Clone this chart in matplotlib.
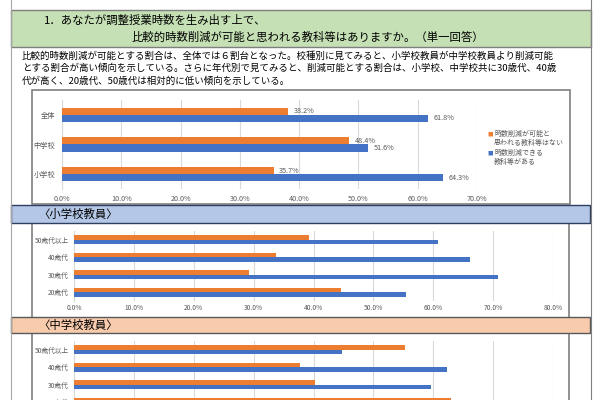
import matplotlib
matplotlib.use("Agg")
import matplotlib.pyplot as plt
from matplotlib.patches import Rectangle

plt.rcParams['font.family'] = ['Noto Sans CJK JP', 'DejaVu Sans']

# ---------------- data ----------------
title_lines = ["1．あなたが調整授業時数を生み出す上で、",
               "比較的時数削減が可能と思われる教科等はありますか。（単一回答）"]
para_lines = ["比較的時数削減が可能とする割合は、全体では６割台となった。校種別に見てみると、小学校教員が中学校教員より削減可能",
              "とする割合が高い傾向を示している。さらに年代別で見てみると、削減可能とする割合は、小学校、中学校共に30歳代、40歳",
              "代が高く、20歳代、50歳代は相対的に低い傾向を示している。"]
series_names = [["時数削減が可能と", "思われる教科等はない"], ["時数削減できる", "教科等がある"]]

main_cats = ["全体", "中学校", "小学校"]
main_no = [38.2, 48.4, 35.7]
main_yes = [61.8, 51.6, 64.3]
main_ticks = [0, 10, 20, 30, 40, 50, 60, 70]

age_cats = ["50歳代以上", "40歳代", "30歳代", "20歳代"]
elem_no = [39.2, 33.8, 29.2, 44.6]
elem_yes = [60.8, 66.2, 70.8, 55.4]
jh_no = [55.2, 37.7, 40.3, 63.0]
jh_yes = [44.8, 62.3, 59.7, 37.0]
age_ticks = [0, 10, 20, 30, 40, 50, 60, 70, 80]

header_elem = "〈小学校教員〉"
header_jh = "〈中学校教員〉"

ORANGE = "#ed7d31"
BLUE = "#4472c4"
GRID = "#d9d9d9"
LBL = "#595959"

W, H = 599, 400
fig = plt.figure(figsize=(W / 100, H / 100), dpi=100)

# background drawing layer in pixel coords
bg = fig.add_axes([0, 0, 1, 1], zorder=0)
bg.set_xlim(0, W)
bg.set_ylim(H, 0)
bg.axis("off")


def rect(x0, y0, x1, y1, fc, ec, lw):
    bg.add_patch(Rectangle((x0, y0), x1 - x0, y1 - y0, facecolor=fc, edgecolor=ec, lw=lw))


# page border
bg.plot([11, 11], [0, 400], color="#a6a6a6", lw=0.8)
bg.plot([591, 591], [0, 400], color="#7f7f7f", lw=0.8)

# title box
rect(11, 10, 591, 47, "#c5e0b4", "#7f7f7f", 1.0)
bg.text(44, 20, title_lines[0], fontsize=8.2, ha="left", va="center", color="#000000")
bg.text(132, 37, title_lines[1], fontsize=8.2, ha="left", va="center", color="#000000")

for i, line in enumerate(para_lines):
    bg.text(22, 56 + i * 12.5, line, fontsize=6.8, ha="left", va="center", color="#000000")

# chart frames
rect(32, 90, 570, 204, "white", "#7f7f7f", 1.2)
rect(32, 222, 569, 318, "white", "#7f7f7f", 1.2)
rect(32, 332, 569, 410, "white", "#7f7f7f", 1.2)

# section headers
rect(11, 205, 590, 223, "#b4c7e7", "#2f3f5f", 1.0)
bg.text(38, 214, header_elem, fontsize=8.2, ha="left", va="center", color="#000000")
rect(11, 317, 590, 333, "#f8cbad", "#595959", 1.0)
bg.text(38, 325, header_jh, fontsize=8.2, ha="left", va="center", color="#000000")


def px_axes(x0, y0, x1, y1):
    ax = fig.add_axes([x0 / W, 1 - y1 / H, (x1 - x0) / W, (y1 - y0) / H], zorder=2)
    ax.set_facecolor("none")
    return ax


def bar_chart(ax, cats, no, yes, ticks, xmax, h, labels=False, lblsize=5, tsize=5, tpad=3, cpad=4,
              show_x=True):
    n = len(cats)
    ys = list(range(n))[::-1]
    ax.barh([y + h / 2 for y in ys], no, height=h, color=ORANGE, zorder=3)
    ax.barh([y - h / 2 for y in ys], yes, height=h, color=BLUE, zorder=3)
    if labels:
        for y, a, b in zip(ys, no, yes):
            ax.annotate(f"{a:.1f}%", (a, y + h / 2), xytext=(4, 0), textcoords="offset points",
                        ha="left", va="center", fontsize=lblsize, color=LBL)
            ax.annotate(f"{b:.1f}%", (b, y - h / 2), xytext=(4, 0), textcoords="offset points",
                        ha="left", va="center", fontsize=lblsize, color=LBL)
    ax.set_xlim(0, xmax)
    ax.set_ylim(-0.5, n - 0.5)
    ax.set_xticks(ticks)
    if show_x:
        ax.set_xticklabels([f"{t:.1f}%" for t in ticks], fontsize=tsize, color=LBL)
    else:
        ax.set_xticklabels([])
    ax.set_yticks(ys)
    ax.set_yticklabels(cats, fontsize=tsize, color=LBL)
    ax.tick_params(axis="both", length=0)
    ax.tick_params(axis="x", pad=tpad)
    ax.tick_params(axis="y", pad=cpad)
    ax.grid(axis="x", color=GRID, lw=0.8, zorder=0)
    ax.set_axisbelow(True)
    for s in ["top", "right", "bottom"]:
        ax.spines[s].set_visible(False)
    ax.spines["left"].set_color(GRID)
    ax.spines["left"].set_linewidth(0.8)


ax1 = px_axes(62, 100, 477, 189)
bar_chart(ax1, main_cats, main_no, main_yes, main_ticks, 70, 0.24, labels=True,
          lblsize=5.2, tsize=5.2, tpad=4, cpad=5)

# legend for main chart
lx = 487
for (ly, col, lines) in [(134, ORANGE, series_names[0]), (153, BLUE, series_names[1])]:
    bg.text(lx, ly, "■", fontsize=4.0, color=col, ha="left", va="center")
    for k, t in enumerate(lines):
        bg.text(lx + 7, ly + k * 9, t, fontsize=5.0, color=LBL, ha="left", va="center")

ax2 = px_axes(74, 231, 553, 301)
bar_chart(ax2, age_cats, elem_no, elem_yes, age_ticks, 80, 0.25, tsize=4.8, tpad=2.5, cpad=4)

ax3 = px_axes(74, 341, 553, 411)
bar_chart(ax3, age_cats, jh_no, jh_yes, age_ticks, 80, 0.25, tsize=4.8, tpad=2.5, cpad=4,
          show_x=False)

fig.savefig("out.png", dpi=100)
